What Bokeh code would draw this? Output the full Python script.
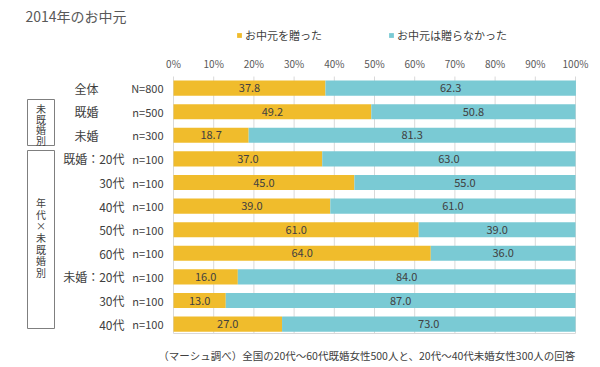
from bokeh.plotting import figure
from bokeh.models import Range1d, Legend, LegendItem, ColumnDataSource
from bokeh.core.properties import value
from bokeh.embed import file_html
from bokeh.resources import INLINE

# ---- data ----
title_text = "2014年のお中元"
series_names = ["お中元を贈った", "お中元は贈らなかった"]
row_labels = ["全体", "既婚", "未婚", "既婚：20代", "30代", "40代", "50代", "60代",
              "未婚：20代", "30代", "40代"]
n_labels = ["N=800", "n=500", "n=300", "n=100", "n=100", "n=100", "n=100", "n=100",
            "n=100", "n=100", "n=100"]
gave = [37.8, 49.2, 18.7, 37.0, 45.0, 39.0, 61.0, 64.0, 16.0, 13.0, 27.0]
not_gave = [62.3, 50.8, 81.3, 63.0, 55.0, 61.0, 39.0, 36.0, 84.0, 87.0, 73.0]
ticks = [0, 10, 20, 30, 40, 50, 60, 70, 80, 90, 100]
tick_labels = ["0%", "10%", "20%", "30%", "40%", "50%", "60%", "70%", "80%", "90%", "100%"]
group_box_1 = "未既婚別"
group_box_2 = "年代×未既婚別"
footnote = "（マーシュ調べ）全国の20代～60代既婚女性500人と、20代～40代未婚女性300人の回答"

COL_GAVE = "#F0BC2C"
COL_NOT = "#7ACAD4"
TXT = "#404040"
FONT_NAME = "Noto Sans CJK JP"
FONT = value(FONT_NAME)

# ---- layout helpers (page pixel -> data) ----
X0, XS = 173.0, 4.02      # page x of 0 %, px per %
Y0, YS = 87.6, 23.6       # page y of row 0 centre, px per row
ORG = 0                   # page offset of the figure
def dx(px):
    return (px - X0) / XS
def dy(py):
    return (py - Y0) / YS

W, H = 600, 367
p = figure(width=W, height=H, output_backend="svg", toolbar_location=None,
           x_range=Range1d(dx(ORG), dx(ORG + W)), y_range=Range1d(dy(ORG + H), dy(ORG)),
           min_border=0, min_border_left=0, min_border_right=0,
           min_border_top=0, min_border_bottom=0)
p.axis.visible = False
p.grid.visible = False
p.outline_line_color = None
p.background_fill_color = "white"

rows = list(range(len(row_labels)))

# gridlines
p.segment(x0=ticks, y0=[dy(76)] * len(ticks), x1=ticks, y1=[dy(333)] * len(ticks),
          line_color="#D9D9D9", line_width=1)
p.segment(x0=[0], y0=[dy(333)], x1=[100], y1=[dy(333)], line_color="#D9D9D9", line_width=1)

# tick labels
p.text(x=ticks, y=[dy(63)] * len(ticks), text=tick_labels, text_align="center",
       text_baseline="middle", text_font=FONT, text_font_size="10px", text_color="#595959")

# bars
src = ColumnDataSource(dict(
    y=rows, gave=gave, not_gave=not_gave,
    end=[g + n for g, n in zip(gave, not_gave)],
    gave_mid=[g / 2 for g in gave],
    not_mid=[g + n / 2 for g, n in zip(gave, not_gave)],
    gave_txt=[f"{v:.1f}" for v in gave],
    not_txt=[f"{v:.1f}" for v in not_gave],
))
r1 = p.hbar(y="y", left=0, right="gave", height=0.64, source=src,
            fill_color=COL_GAVE, line_color=None)
r2 = p.hbar(y="y", left="gave", right="end", height=0.64, source=src,
            fill_color=COL_NOT, line_color=None)

p.text(x="gave_mid", y="y", text="gave_txt", source=src, text_align="center",
       text_baseline="middle", text_font=FONT, text_font_size="11px", text_color=TXT)
p.text(x="not_mid", y="y", text="not_txt", source=src, text_align="center",
       text_baseline="middle", text_font=FONT, text_font_size="11px", text_color=TXT)

# row labels
top_rows = rows[:3]
p.text(x=[dx(98)] * 3, y=top_rows, text=row_labels[:3], text_align="right",
       text_baseline="middle", text_font=FONT, text_font_size="12px", text_color=TXT)
p.text(x=[dx(124)] * (len(rows) - 3), y=rows[3:], text=row_labels[3:], text_align="right",
       text_baseline="middle", text_font=FONT, text_font_size="12px", text_color=TXT)
p.text(x=[dx(163)] * len(rows), y=rows, text=n_labels, text_align="right",
       text_baseline="middle", text_font=FONT, text_font_size="11px", text_color=TXT)

# group boxes
bx0, bx1 = dx(27), dx(54)
p.quad(left=[bx0, bx0], right=[bx1, bx1], top=[dy(99), dy(150)], bottom=[dy(145), dy(328)],
       fill_color=None, line_color="#7F7F7F", line_width=1)
def vtext(s, cy_px, step):
    n = len(s)
    ys = [dy(cy_px + (i - (n - 1) / 2) * step) for i in range(n)]
    p.text(x=[(bx0 + bx1) / 2] * n, y=ys, text=list(s), text_align="center",
           text_baseline="middle", text_font=FONT, text_font_size="10px", text_color=TXT)
vtext(group_box_1, 124, 10.8)
vtext(group_box_2, 237, 11.6)

# title
p.text(x=[dx(25)], y=[dy(15)], text=[title_text], text_align="left", text_baseline="middle",
       text_font=FONT, text_font_size="14px", text_color="#595959")

# footnote
p.text(x=[dx(575)], y=[dy(355)], text=[footnote], text_align="right", text_baseline="middle",
       text_font=FONT, text_font_size="10.5px", text_color=TXT)

# legend
legend = Legend(items=[LegendItem(label=series_names[0], renderers=[r1]),
                       LegendItem(label=series_names[1], renderers=[r2])],
                orientation="horizontal", location=(236 - ORG, H - (43 - ORG)),
                glyph_width=6, glyph_height=6, label_standoff=3, spacing=66,
                padding=0, margin=0, border_line_alpha=0, background_fill_alpha=0,
                label_text_font=FONT_NAME, label_text_font_size="11px", label_text_color=TXT)
p.add_layout(legend, "center")

open("out.html", "w").write(file_html(p, INLINE))
